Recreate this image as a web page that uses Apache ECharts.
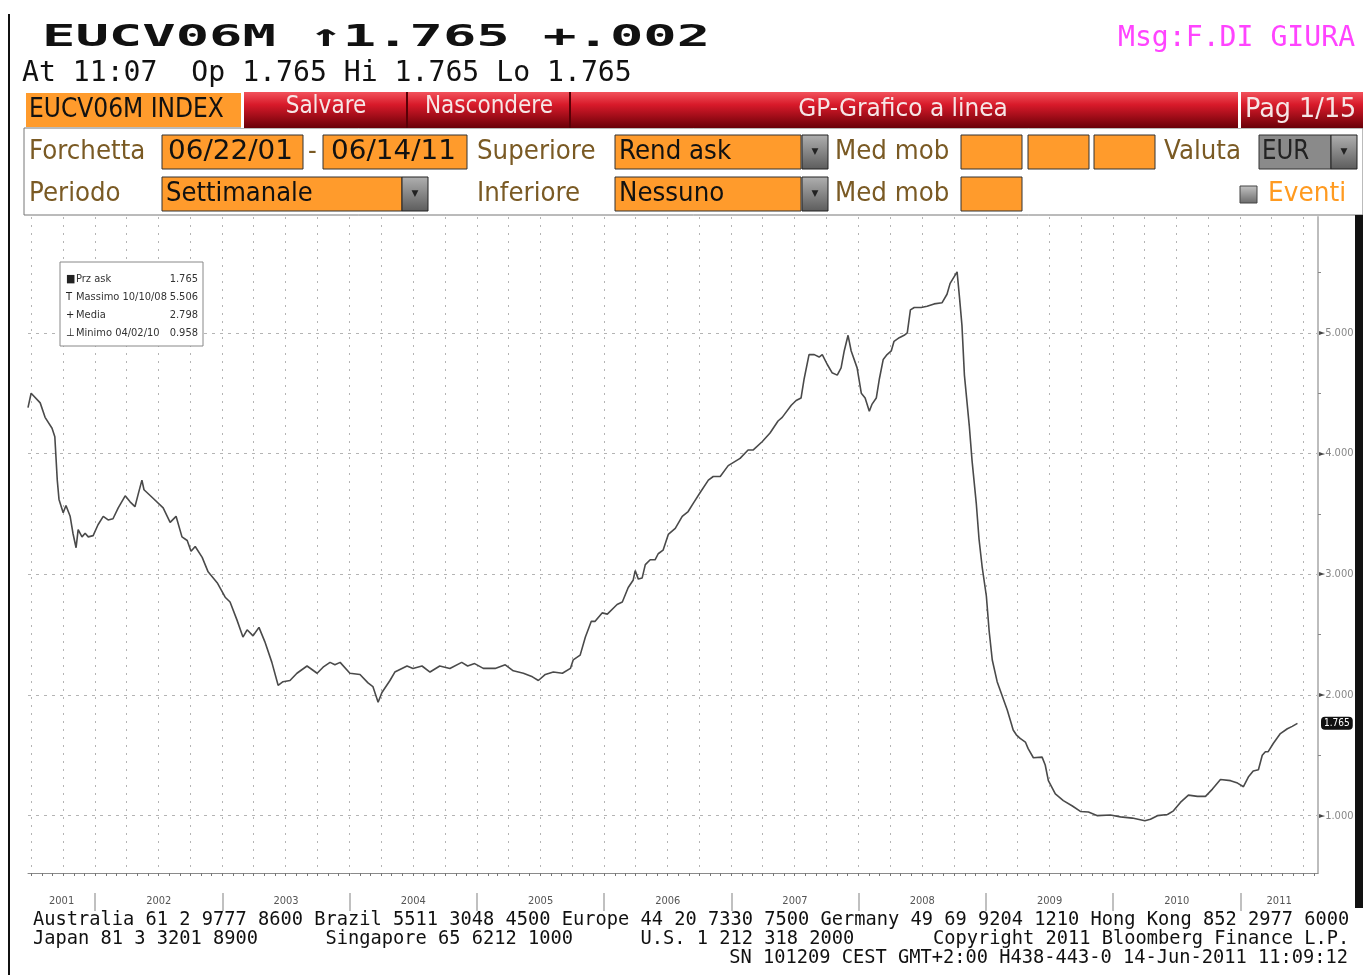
<!DOCTYPE html>
<html>
<head>
<meta charset="utf-8">
<title>EUCV06M INDEX</title>
<script src="https://cdn.jsdelivr.net/npm/echarts@6.0.0/dist/echarts.min.js"></script>
<style>
  html, body { margin: 0; padding: 0; background: #fff; }
  #chart { width: 1363px; height: 975px; }
</style>
</head>
<body>
<div id="chart"></div>
<script>
// weekly ask yield
var dates = [
  '2001-06-22','2001-07-01','2001-07-27','2001-08-10','2001-08-30','2001-09-07','2001-09-14','2001-09-19',
  '2001-10-01','2001-10-09','2001-10-21','2001-10-29','2001-11-07','2001-11-13','2001-11-24','2001-12-03',
  '2001-12-12','2001-12-26','2002-01-09','2002-01-24','2002-02-07','2002-02-21','2002-03-08','2002-03-28',
  '2002-04-11','2002-04-25','2002-05-04','2002-05-15','2002-05-21','2002-06-16','2002-07-15','2002-08-04',
  '2002-08-21','2002-09-07','2002-09-22','2002-10-03','2002-10-15','2002-11-04','2002-11-21','2002-12-17',
  '2003-01-09','2003-01-23','2003-02-12','2003-03-01','2003-03-13','2003-03-30','2003-04-16','2003-05-03',
  '2003-05-23','2003-06-10','2003-06-24','2003-07-14','2003-08-03','2003-09-01','2003-09-30','2003-10-17',
  '2003-11-06','2003-11-20','2003-12-05','2004-01-02','2004-01-31','2004-02-23','2004-03-08','2004-03-23',
  '2004-04-03','2004-04-26','2004-05-10','2004-06-14','2004-07-01','2004-07-27','2004-08-19','2004-09-16',
  '2004-10-15','2004-11-18','2004-12-05','2004-12-25','2005-01-19','2005-02-22','2005-03-23','2005-04-15',
  '2005-05-14','2005-06-09','2005-06-26','2005-07-16','2005-08-08','2005-09-03','2005-09-26','2005-10-04',
  '2005-10-24','2005-11-08','2005-11-25','2005-12-06','2005-12-26','2006-01-10','2006-02-07','2006-02-22',
  '2006-03-11','2006-03-25','2006-03-31','2006-04-09','2006-04-20','2006-04-29','2006-05-13','2006-05-27',
  '2006-06-05','2006-06-19','2006-07-04','2006-07-24','2006-08-13','2006-08-30','2006-09-14','2006-10-04',
  '2006-10-27','2006-11-10','2006-11-30','2006-12-23','2007-01-26','2007-02-18','2007-03-05','2007-03-31',
  '2007-04-22','2007-05-15','2007-05-27','2007-06-22','2007-07-06','2007-07-20','2007-07-29','2007-08-12',
  '2007-08-27','2007-09-10','2007-09-19','2007-10-03','2007-10-17','2007-11-01','2007-11-12','2007-11-21',
  '2007-12-02','2007-12-11','2007-12-28','2008-01-09','2008-01-20','2008-02-01','2008-02-09','2008-02-21',
  '2008-03-01','2008-03-12','2008-03-23','2008-04-04','2008-04-12','2008-04-27','2008-05-11','2008-05-20',
  '2008-05-29','2008-06-09','2008-06-29','2008-07-16','2008-08-05','2008-08-28','2008-09-11','2008-09-20',
  '2008-10-10','2008-10-17','2008-10-24','2008-10-31','2008-11-14','2008-11-22','2008-12-04','2008-12-12',
  '2008-12-21','2009-01-02','2009-01-10','2009-01-19','2009-02-02','2009-02-23','2009-03-03','2009-03-15',
  '2009-03-20','2009-03-29','2009-04-09','2009-04-24','2009-05-02','2009-05-17','2009-06-11','2009-06-20',
  '2009-06-29','2009-07-19','2009-08-11','2009-09-06','2009-09-29','2009-10-22','2009-11-17','2009-12-24',
  '2010-01-22','2010-02-25','2010-04-02','2010-04-18','2010-05-08','2010-06-06','2010-06-23','2010-07-13',
  '2010-08-05','2010-08-31','2010-09-23','2010-10-13','2010-11-05','2010-12-04','2010-12-24','2011-01-10',
  '2011-01-24','2011-02-07','2011-02-22','2011-03-05','2011-03-14','2011-03-22','2011-04-06','2011-04-26',
  '2011-05-16','2011-05-30','2011-06-14'
];
var values = [
  4.38, 4.50, 4.42, 4.30, 4.21, 4.14, 3.78, 3.62,
  3.51, 3.57, 3.48, 3.34, 3.22, 3.37, 3.31, 3.34,
  3.31, 3.32, 3.41, 3.48, 3.45, 3.46, 3.55, 3.65,
  3.60, 3.56, 3.66, 3.78, 3.70, 3.63, 3.55, 3.43,
  3.48, 3.31, 3.28, 3.19, 3.23, 3.14, 3.02, 2.93,
  2.81, 2.77, 2.62, 2.48, 2.54, 2.49, 2.56, 2.44,
  2.27, 2.08, 2.11, 2.12, 2.18, 2.24, 2.18, 2.23,
  2.27, 2.25, 2.27, 2.18, 2.17, 2.10, 2.07, 1.94,
  2.02, 2.12, 2.19, 2.24, 2.22, 2.24, 2.19, 2.24,
  2.22, 2.27, 2.24, 2.26, 2.22, 2.22, 2.25, 2.20,
  2.18, 2.15, 2.12, 2.17, 2.19, 2.18, 2.22, 2.29,
  2.33, 2.48, 2.61, 2.61, 2.68, 2.67, 2.75, 2.77,
  2.89, 2.95, 3.03, 2.96, 2.97, 3.08, 3.12, 3.12,
  3.17, 3.20, 3.33, 3.38, 3.48, 3.52, 3.59, 3.68,
  3.78, 3.81, 3.81, 3.90, 3.96, 4.03, 4.03, 4.10,
  4.17, 4.27, 4.30, 4.40, 4.44, 4.46, 4.62, 4.82,
  4.82, 4.80, 4.82, 4.74, 4.67, 4.65, 4.71, 4.85,
  4.98, 4.85, 4.71, 4.50, 4.46, 4.35, 4.41, 4.46,
  4.62, 4.78, 4.82, 4.85, 4.93, 4.96, 4.98, 5.00,
  5.19, 5.21, 5.21, 5.22, 5.24, 5.25, 5.32, 5.41,
  5.506, 5.29, 5.06, 4.65, 4.23, 3.94, 3.59, 3.29,
  3.06, 2.82, 2.53, 2.29, 2.11, 1.94, 1.875, 1.76,
  1.71, 1.67, 1.64, 1.61, 1.555, 1.48, 1.485, 1.42,
  1.29, 1.18, 1.125, 1.08, 1.035, 1.03, 1.00, 1.005,
  0.99, 0.98, 0.958, 0.97, 1.00, 1.01, 1.04, 1.11,
  1.17, 1.16, 1.16, 1.22, 1.30, 1.29, 1.27, 1.24,
  1.32, 1.37, 1.38, 1.50, 1.53, 1.53, 1.60, 1.68,
  1.72, 1.74, 1.765
];

var yearLabels = ['2001', '2002', '2003', '2004', '2005', '2006', '2007', '2008', '2009', '2010', '2011'];
var yTickLabels = [1, 2, 3, 4, 5];
var yMinorTicks = [1.5, 2.5, 3.5, 4.5, 5.5];

var statMarks = ['\u25A0', 'T', '+', '\u22A5'];
var statNames = ['Prz ask', 'Massimo 10/10/08', 'Media', 'Minimo 04/02/10'];
var statValues = ['1.765', '5.506', '2.798', '0.958'];

var xMin = '2001-06-22';
var xMax = '2011-08-12';

function ts(d) { return echarts.time.parse(d).getTime(); }
var minT = ts(xMin);
var maxT = ts(xMax);

// month / quarter / year boundaries for ticks and grid
var monthTicks = [], quarterTicks = [], yearStarts = [], yearMids = [];
for (var y = 2001; y <= 2011; y++) {
  for (var m = 0; m < 12; m++) {
    var t = new Date(y, m, 1).getTime();
    if (t < minT || t > maxT) continue;
    monthTicks.push(t);
    if (m % 3 === 0) quarterTicks.push(t);
    if (m === 0) yearStarts.push(t);
  }
}
yearLabels.forEach(function (lab) {
  var a = Math.max(minT, new Date(+lab, 0, 1).getTime());
  var b = Math.min(maxT, new Date(+lab + 1, 0, 1).getTime());
  yearMids.push((a + b) / 2);
});

var seriesData = dates.map(function (d, i) { return [ts(d), values[i]]; });
var lastValue = values[values.length - 1];

var narrow = "'Liberation Sans Narrow', 'DejaVu Sans Condensed', sans-serif";

function txt(x, y, text, font, fill, sx, align) {
  return {
    type: 'text', x: x, y: y, scaleX: sx || 1, z: 20,
    style: { text: text, font: font, fill: fill, textAlign: align || 'left', textVerticalAlign: 'middle' }
  };
}
function box(x, y, w, h, fill, stroke, z) {
  return {
    type: 'rect', z: z || 10,
    shape: { x: x, y: y, width: w, height: h },
    style: { fill: fill, stroke: stroke || null, lineWidth: 1 }
  };
}
function drop(x, y) {
  var g = new echarts.graphic.LinearGradient(0, 0, 0, 1, [
    { offset: 0, color: '#b0b0b0' }, { offset: 1, color: '#5c5c5c' }
  ]);
  return [
    box(x, y, 26, 34, g, '#222', 12),
    txt(x + 13, y + 17, '\u25BC', '9px DejaVu Sans', '#222', 1, 'center')
  ];
}

var red = new echarts.graphic.LinearGradient(0, 0, 0, 1, [
  { offset: 0, color: '#f2525c' }, { offset: 0.35, color: '#d81a2a' },
  { offset: 1, color: '#6a0008' }
]);
var orange = '#ff9b2c';
var labelCol = '#7a5a24';
var uiFont = '27px DejaVu Sans';

var ui = [
  box(8, 14, 2, 961, '#111'),
  box(1355, 215, 8, 693, '#111'),
  // title lines
  txt(42, 38, 'EUCV06M \u21911.765 +.002', 'bold 31px DejaVu Sans Mono', '#111', 1.79),
  txt(22, 73, 'At 11:07  Op 1.765 Hi 1.765 Lo 1.765', '29px DejaVu Sans Mono', '#111', 0.97),
  txt(1118, 38, 'Msg:F.DI GIURA', '29px DejaVu Sans Mono', '#ff44ff', 0.97),
  // red tool bar
  box(243, 92, 1120, 36, red),
  box(241, 92, 3, 36, '#fff'),
  box(406, 92, 2, 36, '#5a0006'),
  box(569, 92, 2, 36, '#5a0006'),
  box(1238, 92, 3, 36, '#fff'),
  box(26, 93, 215, 34, orange),
  txt(29, 110, 'EUCV06M INDEX', '26px DejaVu Sans', '#111', 0.9),
  txt(326, 107, 'Salvare', '24px DejaVu Sans', '#f6e6e6', 0.9, 'center'),
  txt(489, 107, 'Nascondere', '24px DejaVu Sans', '#f6e6e6', 0.9, 'center'),
  txt(903, 110, 'GP-Grafico a linea', '24px DejaVu Sans', '#f6e6e6', 0.97, 'center'),
  txt(1245, 110, 'Pag 1/15', '26px DejaVu Sans', '#f6e6e6', 0.98),
  // settings panel
  box(24, 128, 1339, 87, '#fff', '#777', 5),
  txt(29, 152, 'Forchetta', uiFont, labelCol, 0.91),
  box(162, 135, 141, 34, orange, '#333'),
  txt(168, 152, '06/22/01', uiFont, '#111', 1.03),
  txt(308, 152, '-', uiFont, labelCol, 0.9),
  box(323, 135, 144, 34, orange, '#333'),
  txt(331, 152, '06/14/11', uiFont, '#111', 1.03),
  txt(477, 152, 'Superiore', uiFont, labelCol, 0.91),
  box(615, 135, 186, 34, orange, '#333'),
  txt(619, 152, 'Rend ask', uiFont, '#111', 0.91),
  txt(835, 152, 'Med mob', uiFont, labelCol, 0.91),
  box(961, 135, 61, 34, orange, '#333'),
  box(1028, 135, 61, 34, orange, '#333'),
  box(1094, 135, 61, 34, orange, '#333'),
  txt(1164, 152, 'Valuta', uiFont, labelCol, 0.91),
  box(1259, 135, 72, 34, '#8a8a8a', '#333'),
  txt(1262, 152, 'EUR', uiFont, '#222', 0.85),
  txt(29, 194, 'Periodo', uiFont, labelCol, 0.91),
  box(162, 177, 240, 34, orange, '#333'),
  txt(166, 194, 'Settimanale', uiFont, '#111', 0.9),
  txt(477, 194, 'Inferiore', uiFont, labelCol, 0.91),
  box(615, 177, 186, 34, orange, '#333'),
  txt(619, 194, 'Nessuno', uiFont, '#111', 0.91),
  txt(835, 194, 'Med mob', uiFont, labelCol, 0.91),
  box(961, 177, 61, 34, orange, '#333'),
  box(1240, 186, 17, 17, new echarts.graphic.LinearGradient(0, 0, 0, 1, [
    { offset: 0, color: '#c4c4c4' }, { offset: 1, color: '#6a6a6a' }]), '#444', 12),
  txt(1268, 194, 'Eventi', uiFont, '#ff9a20', 0.92),
  // stats box
  box(60, 262, 143, 84, '#fff', '#888', 50),
  // footer
  txt(33, 920, 'Australia 61 2 9777 8600 Brazil 5511 3048 4500 Europe 44 20 7330 7500 Germany 49 69 9204 1210 Hong Kong 852 2977 6000', '18.7px DejaVu Sans Mono', '#111'),
  txt(33, 939, 'Japan 81 3 3201 8900      Singapore 65 6212 1000      U.S. 1 212 318 2000       Copyright 2011 Bloomberg Finance L.P.', '18.7px DejaVu Sans Mono', '#111'),
  txt(1348, 958, 'SN 101209 CEST GMT+2:00 H438-443-0 14-Jun-2011 11:09:12', '18.7px DejaVu Sans Mono', '#111', 1, 'right')
];
ui = ui.concat(drop(802, 135), drop(1331, 135), drop(402, 177), drop(802, 177));
statNames.forEach(function (name, i) {
  var yy = 279 + i * 18;
  var mk = txt(66, yy, statMarks[i], '11px ' + narrow, '#222');
  var nm = txt(76, yy, name, '11px ' + narrow, '#333');
  var vl = txt(198, yy, statValues[i], '11px ' + narrow, '#333', 1, 'right');
  mk.z = nm.z = vl.z = 51;
  ui.push(mk, nm, vl);
});

var chart = echarts.init(document.getElementById('chart'));
chart.setOption({
  animation: false,
  backgroundColor: '#fff',
  grid: { left: 28, right: 45, top: 217, bottom: 102 },
  xAxis: [
    {
      type: 'value', position: 'bottom', min: minT, max: maxT,
      axisLine: { show: true, lineStyle: { color: '#8a8a8a', width: 1 } },
      axisTick: { show: true, customValues: monthTicks, length: 3, lineStyle: { color: '#777' } },
      axisLabel: { show: false },
      splitLine: { show: false }
    },
    {
      type: 'value', position: 'bottom', min: minT, max: maxT,
      axisLine: { show: false },
      axisTick: { show: false, customValues: quarterTicks },
      axisLabel: { show: false },
      splitLine: { show: true, lineStyle: { color: '#b4b4b4', type: [2, 6], width: 1 } }
    },
    {
      type: 'value', position: 'bottom', min: minT, max: maxT, offset: 20,
      axisLine: { show: false },
      axisTick: { show: true, customValues: yearStarts, length: 18, lineStyle: { color: '#c0c0c0', width: 2 } },
      axisLabel: {
        show: true, customValues: yearMids, margin: 3,
        fontFamily: narrow, fontSize: 11, color: '#555',
        formatter: function (v) { return String(new Date(v).getFullYear()); }
      },
      splitLine: { show: false }
    }
  ],
  yAxis: [
    {
      type: 'value', position: 'right', min: 0.525, max: 5.96,
      axisLine: { show: true, lineStyle: { color: '#bdbdbd', width: 2 } },
      axisTick: { show: false, customValues: yTickLabels },
      axisLabel: {
        show: true, customValues: yTickLabels, margin: 1,
        formatter: function (v) { return '{a|\u25BA}{b|' + v.toFixed(3) + '}'; },
        rich: {
          a: { color: '#444', fontSize: 8, fontFamily: 'DejaVu Sans' },
          b: { color: '#888', fontSize: 11, fontFamily: narrow }
        }
      },
      splitLine: { show: true, lineStyle: { color: '#b4b4b4', type: [3, 5], width: 1 } }
    },
    {
      type: 'value', position: 'right', min: 0.525, max: 5.96,
      axisLine: { show: false },
      axisTick: { show: true, customValues: yMinorTicks, length: 3, lineStyle: { color: '#888' } },
      axisLabel: { show: false },
      splitLine: { show: false }
    },
    {
      // last price badge
      type: 'value', position: 'right', min: 0.525, max: 5.96,
      axisLine: { show: false },
      axisTick: { show: false, customValues: [lastValue] },
      axisLabel: {
        show: true, customValues: [lastValue], margin: 3,
        formatter: function (v) { return v.toFixed(3); },
        color: '#fff', backgroundColor: '#111', borderRadius: 4,
        padding: [2, 3, 1, 3], fontSize: 10, fontFamily: narrow
      },
      splitLine: { show: false }
    }
  ],
  graphic: ui,
  series: [
    {
      name: 'Prz ask',
      type: 'line',
      xAxisIndex: 0,
      yAxisIndex: 0,
      data: seriesData,
      showSymbol: false,
      lineStyle: { color: '#4a4a4a', width: 1.6 }
    }
  ]
});
</script>
</body>
</html>
